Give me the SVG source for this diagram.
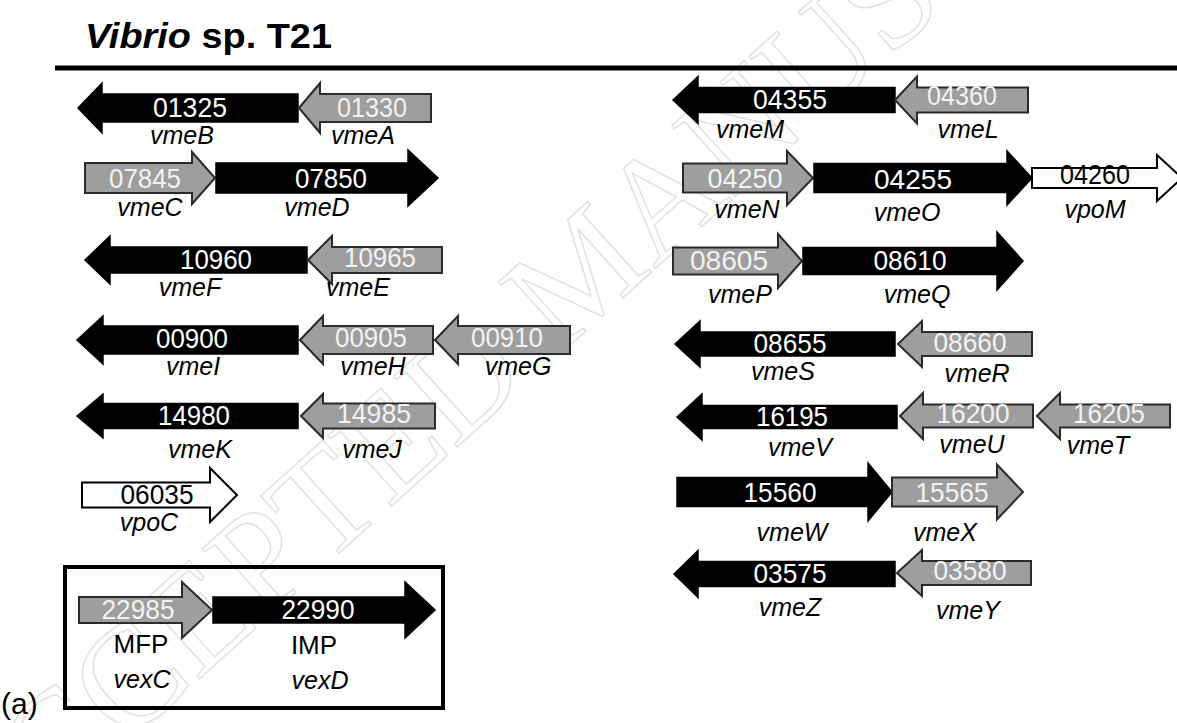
<svg xmlns="http://www.w3.org/2000/svg" width="1177" height="723" viewBox="0 0 1177 723">
<style>
.blk{fill:#000;stroke:#000;stroke-width:1.5;stroke-linejoin:miter}
.gry{fill:#9e9e9e;stroke:#2a2a2a;stroke-width:2;stroke-linejoin:miter}
.wht{fill:#fff;stroke:#000;stroke-width:2;stroke-linejoin:miter}
.num{font-family:"Liberation Sans",Arial,sans-serif;font-size:28px;text-anchor:middle}
.nw{fill:#fff}
.ng{fill:#f2f2f2}
.nb{fill:#000}
.lab{font-family:"Liberation Sans",Arial,sans-serif;font-size:25px;font-style:italic;text-anchor:middle;fill:#000}
.pl{font-family:"Liberation Sans",Arial,sans-serif;font-size:26px;text-anchor:middle;fill:#000}
.wm{font-family:"Liberation Serif","Times New Roman",serif;font-size:145px;fill:none;stroke:#e2e2e2;stroke-width:1.5}
</style>
<rect x="0" y="0" width="1177" height="723" fill="#fff"/>
<text class="wm" transform="translate(-25,881) rotate(-42)">ACCEPTED MANUSCRIPT</text>

<g id="title">
<text x="85" y="48" font-family="Liberation Sans,Arial,sans-serif" font-size="35" font-weight="bold" fill="#000" textLength="247" lengthAdjust="spacingAndGlyphs"><tspan font-style="italic">Vibrio</tspan> sp. T21</text>
</g>
<g id="rule"><line x1="55" y1="68" x2="1177" y2="68" stroke="#000" stroke-width="5"/></g>
<g id="connectors"/>

<!-- left column -->
<g id="g01325"><path class="blk" d="M78,108 L102,83 L102,94 L298,94 L298,122 L102,122 L102,133 Z"/><text class="num nw" x="190" y="117" textLength="74" lengthAdjust="spacingAndGlyphs">01325</text><text class="lab" x="182" y="144">vmeB</text></g>
<g id="g01330"><path class="gry" d="M299,108 L320,83 L320,94 L431,94 L431,122 L320,122 L320,133 Z"/><text class="num ng" x="372" y="117" textLength="70" lengthAdjust="spacingAndGlyphs">01330</text><text class="lab" x="363" y="144">vmeA</text></g>

<g id="g07845"><path class="gry" d="M85,163 L192,163 L192,152 L215,178 L192,204 L192,193 L85,193 Z"/><text class="num ng" x="145" y="188" textLength="72" lengthAdjust="spacingAndGlyphs">07845</text><text class="lab" x="150" y="216">vmeC</text></g>
<g id="g07850"><path class="blk" d="M216,163 L408,163 L408,150 L438,178 L408,206 L408,193 L216,193 Z"/><text class="num nw" x="331" y="188" textLength="72" lengthAdjust="spacingAndGlyphs">07850</text><text class="lab" x="317" y="216">vmeD</text></g>

<g id="g10960"><path class="blk" d="M85,260 L110,236 L110,247 L307,247 L307,273 L110,273 L110,284 Z"/><text class="num nw" x="216" y="269" textLength="72" lengthAdjust="spacingAndGlyphs">10960</text><text class="lab" x="190" y="296">vmeF</text></g>
<g id="g10965"><path class="gry" d="M308,260 L332,236 L332,247 L442,247 L442,273 L332,273 L332,284 Z"/><text class="num ng" x="380" y="267" textLength="72" lengthAdjust="spacingAndGlyphs">10965</text><text class="lab" x="358" y="296">vmeE</text></g>

<g id="g00900"><path class="blk" d="M77,340 L103,316 L103,326 L298,326 L298,354 L103,354 L103,364 Z"/><text class="num nw" x="192" y="348" textLength="72" lengthAdjust="spacingAndGlyphs">00900</text><text class="lab" x="193" y="375">vmeI</text></g>
<g id="g00905"><path class="gry" d="M300,340 L323,316 L323,326 L433,326 L433,354 L323,354 L323,364 Z"/><text class="num ng" x="371" y="347" textLength="72" lengthAdjust="spacingAndGlyphs">00905</text><text class="lab" x="373" y="375">vmeH</text></g>
<g id="g00910"><path class="gry" d="M435,340 L458,316 L458,326 L570,326 L570,354 L458,354 L458,364 Z"/><text class="num ng" x="507" y="347" textLength="72" lengthAdjust="spacingAndGlyphs">00910</text><text class="lab" x="518" y="375">vmeG</text></g>

<g id="g14980"><path class="blk" d="M77,416 L103,394 L103,403.5 L298,403.5 L298,428.5 L103,428.5 L103,438 Z"/><text class="num nw" x="194" y="425" textLength="72" lengthAdjust="spacingAndGlyphs">14980</text><text class="lab" x="200" y="458">vmeK</text></g>
<g id="g14985"><path class="gry" d="M301,416 L323,394 L323,403.5 L435,403.5 L435,428.5 L323,428.5 L323,438 Z"/><text class="num ng" x="374" y="423" textLength="74" lengthAdjust="spacingAndGlyphs">14985</text><text class="lab" x="372" y="458">vmeJ</text></g>

<g id="g06035"><path class="wht" d="M82,482.5 L210,482.5 L210,468 L237,495 L210,522 L210,507.5 L82,507.5 Z"/><text class="num nb" x="157" y="504" textLength="73" lengthAdjust="spacingAndGlyphs">06035</text><text class="lab" x="149" y="531">vpoC</text></g>

<g id="box">
<rect x="65" y="567" width="378" height="141" fill="none" stroke="#000" stroke-width="4"/>
<g id="g22985"><path class="gry" d="M79,597 L182,597 L182,582 L212,610 L182,638 L182,623 L79,623 Z"/><text class="num ng" x="138" y="619" textLength="73" lengthAdjust="spacingAndGlyphs">22985</text><text class="pl" x="141" y="653">MFP</text><text class="lab" x="142" y="688">vexC</text></g>
<g id="g22990"><path class="blk" d="M213,597 L405,597 L405,582 L435,610 L405,638 L405,623 L213,623 Z"/><text class="num nw" x="318" y="619" textLength="73" lengthAdjust="spacingAndGlyphs">22990</text><text class="pl" x="314" y="654">IMP</text><text class="lab" x="320" y="689">vexD</text></g>
</g>
<g id="panel"><text x="1" y="714" font-family="Liberation Sans,Arial,sans-serif" font-size="30" fill="#000">(a)</text></g>

<!-- right column -->
<g id="g04355"><path class="blk" d="M673,100 L698,76.5 L698,87.5 L895,87.5 L895,112.5 L698,112.5 L698,123.5 Z"/><text class="num nw" x="790" y="109" textLength="74" lengthAdjust="spacingAndGlyphs">04355</text><text class="lab" x="750" y="138">vmeM</text></g>
<g id="g04360"><path class="gry" d="M895,100 L917,76.5 L917,87.5 L1028,87.5 L1028,112.5 L917,112.5 L917,123.5 Z"/><text class="num ng" x="962" y="105" textLength="70" lengthAdjust="spacingAndGlyphs">04360</text><text class="lab" x="968" y="138">vmeL</text></g>

<g id="g04250"><path class="gry" d="M683,163.5 L787,163.5 L787,151 L813,178 L787,205 L787,192.5 L683,192.5 Z"/><text class="num ng" x="745" y="188" textLength="75" lengthAdjust="spacingAndGlyphs">04250</text><text class="lab" x="747" y="218">vmeN</text></g>
<g id="g04255"><path class="blk" d="M814,163.5 L1007,163.5 L1007,151 L1032,178 L1007,205 L1007,192.5 L814,192.5 Z"/><text class="num nw" x="913" y="189" textLength="78" lengthAdjust="spacingAndGlyphs">04255</text><text class="lab" x="907" y="221">vmeO</text></g>
<g id="g04260"><path class="wht" d="M1032,168 L1157,168 L1157,155 L1182,178 L1157,201 L1157,188 L1032,188 Z"/><text class="num nb" x="1095" y="184" textLength="70" lengthAdjust="spacingAndGlyphs">04260</text><text class="lab" x="1095" y="218">vpoM</text></g>

<g id="g08605"><path class="gry" d="M673,247.5 L778,247.5 L778,234 L802,261 L778,288 L778,274.5 L673,274.5 Z"/><text class="num ng" x="729" y="270" textLength="78" lengthAdjust="spacingAndGlyphs">08605</text><text class="lab" x="740" y="303">vmeP</text></g>
<g id="g08610"><path class="blk" d="M803,247.5 L997,247.5 L997,232 L1023,261 L997,290 L997,274.5 L803,274.5 Z"/><text class="num nw" x="910" y="270" textLength="73" lengthAdjust="spacingAndGlyphs">08610</text><text class="lab" x="917" y="303">vmeQ</text></g>

<g id="g08655"><path class="blk" d="M675,344 L700,321 L700,332 L895,332 L895,356 L700,356 L700,367 Z"/><text class="num nw" x="790" y="353" textLength="73" lengthAdjust="spacingAndGlyphs">08655</text><text class="lab" x="783" y="380">vmeS</text></g>
<g id="g08660"><path class="gry" d="M898,344 L922,321 L922,332 L1032,332 L1032,356 L922,356 L922,367 Z"/><text class="num ng" x="970" y="352" textLength="73" lengthAdjust="spacingAndGlyphs">08660</text><text class="lab" x="977" y="382">vmeR</text></g>

<g id="g16195"><path class="blk" d="M677,417 L702,394 L702,405.5 L897,405.5 L897,428.5 L702,428.5 L702,440 Z"/><text class="num nw" x="792" y="426" textLength="72" lengthAdjust="spacingAndGlyphs">16195</text><text class="lab" x="800" y="456">vmeV</text></g>
<g id="g16200"><path class="gry" d="M900,416 L923,393 L923,404.5 L1033,404.5 L1033,427.5 L923,427.5 L923,439 Z"/><text class="num ng" x="973" y="423" textLength="73" lengthAdjust="spacingAndGlyphs">16200</text><text class="lab" x="972" y="453">vmeU</text></g>
<g id="g16205"><path class="gry" d="M1037,416 L1060,393 L1060,404.5 L1170,404.5 L1170,427.5 L1060,427.5 L1060,439 Z"/><text class="num ng" x="1109" y="423" textLength="72" lengthAdjust="spacingAndGlyphs">16205</text><text class="lab" x="1098" y="454">vmeT</text></g>

<g id="g15560"><path class="blk" d="M677,477.5 L868,477.5 L868,463 L892,492 L868,521 L868,506.5 L677,506.5 Z"/><text class="num nw" x="780" y="502" textLength="73" lengthAdjust="spacingAndGlyphs">15560</text><text class="lab" x="792" y="541">vmeW</text></g>
<g id="g15565"><path class="gry" d="M892,477.5 L997,477.5 L997,464.5 L1023,492 L997,519.5 L997,506.5 L892,506.5 Z"/><text class="num ng" x="952" y="502" textLength="73" lengthAdjust="spacingAndGlyphs">15565</text><text class="lab" x="945" y="541">vmeX</text></g>

<g id="g03575"><path class="blk" d="M674,574 L698,550.5 L698,561.5 L895,561.5 L895,586.5 L698,586.5 L698,597.5 Z"/><text class="num nw" x="790" y="583" textLength="73" lengthAdjust="spacingAndGlyphs">03575</text><text class="lab" x="790" y="616">vmeZ</text></g>
<g id="g03580"><path class="gry" d="M897,573 L922,550 L922,561 L1031,561 L1031,585 L922,585 L922,596 Z"/><text class="num ng" x="970" y="580" textLength="73" lengthAdjust="spacingAndGlyphs">03580</text><text class="lab" x="968" y="619">vmeY</text></g>
</svg>
